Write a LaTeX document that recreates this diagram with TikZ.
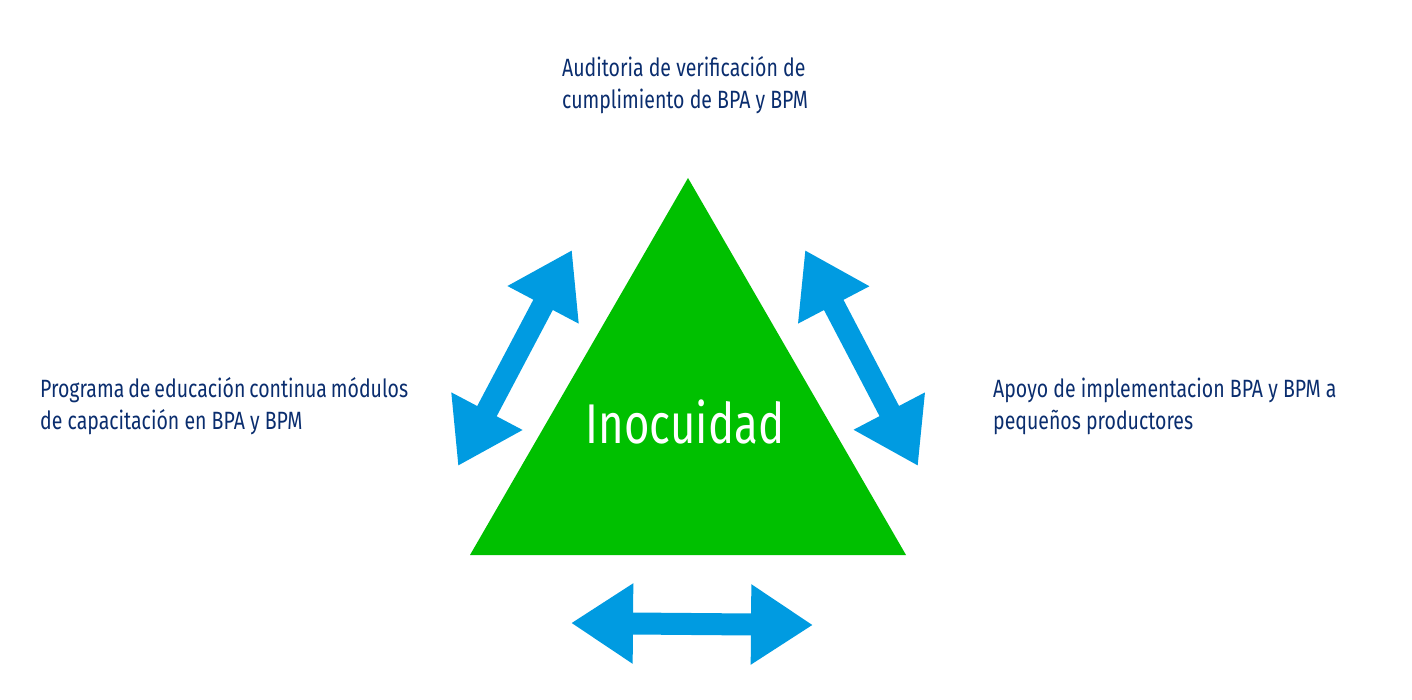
\documentclass[tikz,border=0pt]{standalone}
\usepackage{fontspec}
\setmainfont[FakeStretch=0.78]{Fira Sans}
\usetikzlibrary{arrows.meta,positioning}
\definecolor{textblue}{RGB}{10,45,110}
\definecolor{arrowblue}{RGB}{0,155,225}
\definecolor{trigreen}{RGB}{0,192,0}
\tikzset{
    label/.style={text=textblue,font=\fontsize{25}{32}\selectfont,inner sep=0pt},
    double arrow/.style={arrowblue,line width=22pt,
        {Triangle[length=62pt,width=76pt]}-{Triangle[length=62pt,width=76pt]}}
}
\begin{document}
\begin{tikzpicture}[x=1pt,y=-1pt]
    \useasboundingbox (0,0) rectangle (1412,700);
    % triangle
    \fill[trigreen] (688,178) -- (906,555) -- (470,555) -- cycle;
    \node[text=white,font=\fontsize{56}{60}\selectfont,inner sep=0pt] (center) at (685,422) {Inocuidad};

    % texts
    \node[label,anchor=north west,align=left] (top) at (562,56)
        {Auditoria de verificación de\\cumplimiento de BPA y BPM};
    \node[label,anchor=west,text width=368pt,align=justify] (left) at (40,406)
        {Programa de educación continua módulos de capacitación en BPA y BPM};
    \node[label,anchor=west,align=left] (right) at (993,406)
        {Apoyo de implementacion BPA y BPM a\\pequeños productores};

    % arrows
    \coordinate (la) at (458,466);
    \coordinate (lb) at (572,250);
    \coordinate (ra) at (805,250);
    \coordinate (rb) at (918,466);
    \coordinate (ba) at (571,623);
    \coordinate (bb) at (813,625);
    \draw[double arrow] (la) -- (lb);
    \draw[double arrow] (ra) -- (rb);
    \draw[double arrow] (ba) -- (bb);
\end{tikzpicture}
\end{document}
